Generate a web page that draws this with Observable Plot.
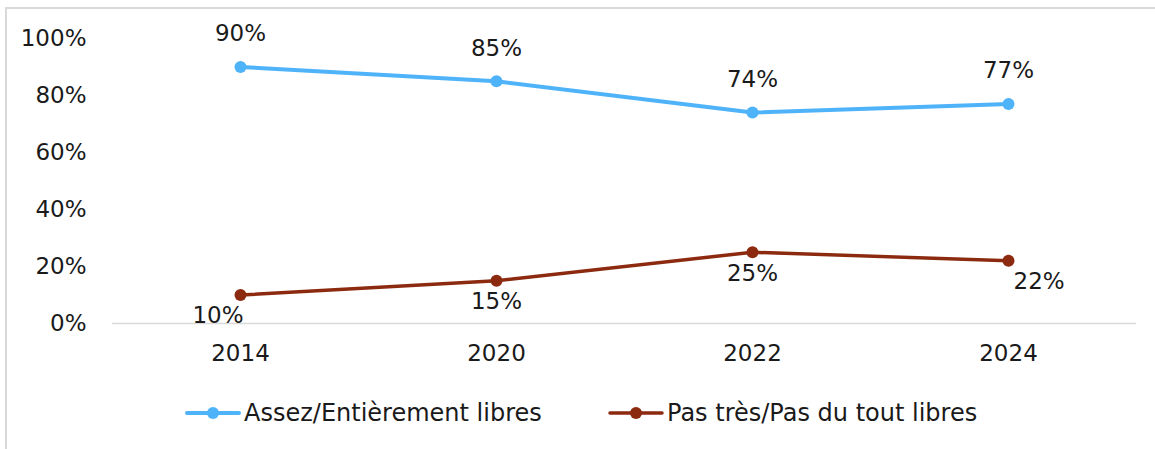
<!DOCTYPE html>
<html>
<head>
<meta charset="utf-8">
<script src="https://cdn.jsdelivr.net/npm/d3@7"></script>
<script src="https://cdn.jsdelivr.net/npm/@observablehq/plot@0.6"></script>
<style>
  html, body { margin: 0; padding: 0; background: #fff; }
  #wrap { position: relative; width: 1155px; height: 449px; overflow: hidden; font-family: "DejaVu Sans", sans-serif; }
  #frame { position: absolute; left: 5px; top: 7px; width: 1160px; height: 460px; border: 2px solid #d9d9d9; box-sizing: border-box; }
  #chart { position: absolute; left: 0; top: 0; }
  #legend { position: absolute; top: 398px; left: 0; width: 1155px; height: 30px; }
  .item { position: absolute; top: 0; display: flex; align-items: center; font-size: 24px; color: #1a1a1a; }
  .item svg { margin-right: 3px; }
</style>
</head>
<body>
<div id="wrap">
  <div id="frame"></div>
  <div id="chart"></div>
  <div id="legend"></div>
</div>
<script>
const years = ["2014", "2020", "2022", "2024"];
const seriesNames = ["Assez/Entièrement libres", "Pas très/Pas du tout libres"];
const libres = [90, 85, 74, 77];
const pasLibres = [10, 15, 25, 22];
const yTicks = [0, 20, 40, 60, 80, 100];
const colors = ["#4fb3fa", "#8c2a10"];

const rows = [];
years.forEach((y, i) => rows.push({year: y, value: libres[i], series: seriesNames[0], i}));
years.forEach((y, i) => rows.push({year: y, value: pasLibres[i], series: seriesNames[1], i}));
const blue = rows.filter(d => d.series === seriesNames[0]);
const red = rows.filter(d => d.series === seriesNames[1]);

const font = "DejaVu Sans, sans-serif";
const fs = 23;
const redAnchor = i => i === 0 ? "end" : i === 3 ? "start" : "middle";
const redDx = [3, 0, 0, 5];

const chart = Plot.plot({
  width: 1155,
  height: 449,
  marginTop: 38,
  marginBottom: 126,
  marginLeft: 112,
  marginRight: 19,
  style: {fontFamily: font, fontSize: fs + "px", color: "#1a1a1a", background: "transparent", overflow: "visible"},
  x: {type: "point", domain: years, padding: 0.5, label: null},
  y: {domain: [0, 100], label: null},
  marks: [
    Plot.ruleY([0], {stroke: "#d9d9d9", strokeWidth: 1.5}),
    Plot.axisY({ticks: yTicks, tickFormat: d => d + "%", tickSize: 0, tickPadding: 26, fontSize: fs, fill: "#1a1a1a", label: null}),
    Plot.axisX({tickSize: 0, tickPadding: 21, fontSize: fs, fill: "#1a1a1a", label: null}),
    Plot.line(blue, {x: "year", y: "value", stroke: colors[0], strokeWidth: 4}),
    Plot.line(red, {x: "year", y: "value", stroke: colors[1], strokeWidth: 3.5}),
    Plot.dot(blue, {x: "year", y: "value", fill: colors[0], r: 6}),
    Plot.dot(red, {x: "year", y: "value", fill: colors[1], r: 6}),
    Plot.text(blue, {x: "year", y: "value", text: d => d.value + "%", dy: -33, fontSize: fs, fill: "#1a1a1a"}),
    ...red.map((d, i) => Plot.text([d], {x: "year", y: "value", text: d => d.value + "%", dy: 21, dx: redDx[i], textAnchor: redAnchor(i), fontSize: fs, fill: "#1a1a1a"}))
  ]
});
document.getElementById("chart").appendChild(chart);

const legend = document.getElementById("legend");
const legendX = [185, 608];
seriesNames.forEach((name, k) => {
  const item = document.createElement("div");
  item.className = "item";
  item.style.left = legendX[k] + "px";
  item.innerHTML = `<svg width="56" height="30"><line x1="2" x2="54" y1="15" y2="15" stroke="${colors[k]}" stroke-width="${k === 0 ? 4 : 3.5}" stroke-linecap="round"/><circle cx="28" cy="15" r="6" fill="${colors[k]}"/></svg><span>${name}</span>`;
  legend.appendChild(item);
});
</script>
</body>
</html>
